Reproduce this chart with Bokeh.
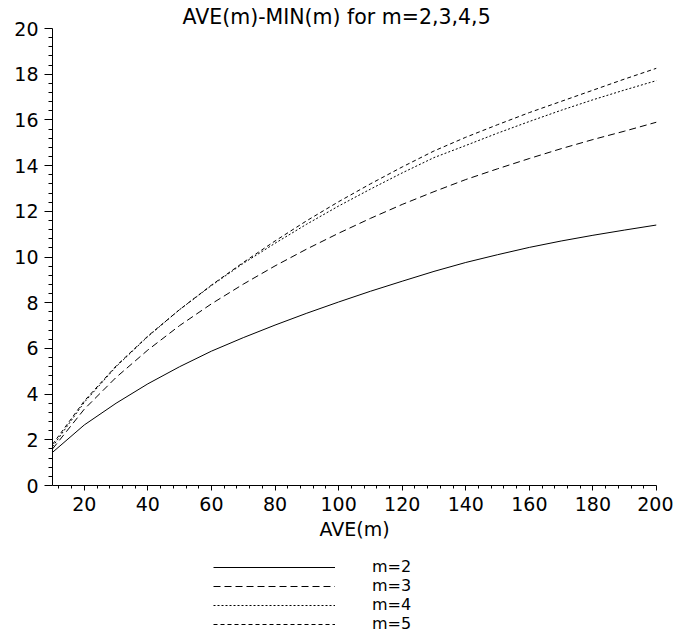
from bokeh.plotting import figure
from bokeh.layouts import column
from bokeh.models import Range1d, FixedTicker, Legend, LegendItem
from bokeh.embed import file_html
from bokeh.resources import INLINE

ave = [10, 20, 30, 40, 50, 60, 70, 80, 90, 100, 110, 120, 130, 140, 150, 160, 170, 180, 190, 200]
m2 = [1.45, 2.65, 3.6, 4.45, 5.2, 5.88, 6.47, 7.02, 7.54, 8.03, 8.5, 8.94, 9.37, 9.76, 10.1, 10.42, 10.7, 10.95, 11.18, 11.4]
m3 = [1.6, 3.34, 4.73, 5.93, 7.0, 7.95, 8.81, 9.61, 10.35, 11.04, 11.69, 12.3, 12.86, 13.39, 13.86, 14.31, 14.74, 15.14, 15.51, 15.9]
m4 = [1.7, 3.64, 5.2, 6.52, 7.7, 8.75, 9.72, 10.6, 11.44, 12.23, 12.97, 13.68, 14.35, 14.88, 15.42, 15.93, 16.42, 16.88, 17.31, 17.72]
m5 = [1.8, 3.7, 5.23, 6.54, 7.7, 8.77, 9.76, 10.7, 11.59, 12.42, 13.2, 13.94, 14.64, 15.24, 15.79, 16.32, 16.81, 17.3, 17.79, 18.26]
names = ["m=2", "m=3", "m=4", "m=5"]
dashes = ["solid", "7 4", "2 2", "4 3"]
x_ticks = [20, 40, 60, 80, 100, 120, 140, 160, 180, 200]
y_ticks = [0, 2, 4, 6, 8, 10, 12, 14, 16, 18, 20]

FONT = "DejaVu Sans"

p = figure(frame_width=604, frame_height=457,
           x_range=Range1d(10, 200), y_range=Range1d(0, 20),
           output_backend="svg", toolbar_location=None,
           min_border_left=52, min_border_right=17, min_border_top=28, min_border_bottom=70,
           title="AVE(m)-MIN(m) for m=2,3,4,5")
p.outline_line_color = None
p.grid.visible = False
p.title.align = "left"
p.title.offset = 130
p.title.text_font = FONT
p.title.text_font_size = "20.5px"
p.title.text_font_style = "normal"
p.title.text_color = "black"
p.title.standoff = 0

xminor = [v for v in range(12, 201, 4) if v % 20 != 0]
yminor = [round(i * 0.4, 1) for i in range(0, 51) if i % 5 != 0]
p.xaxis.ticker = FixedTicker(ticks=x_ticks, minor_ticks=xminor)
p.yaxis.ticker = FixedTicker(ticks=y_ticks, minor_ticks=yminor)
p.xaxis.axis_label = "AVE(m)"

for ax in (p.xaxis, p.yaxis):
    ax.major_label_text_font = FONT
    ax.major_label_text_font_size = "19px"
    ax.major_label_text_color = "black"
    ax.axis_label_text_font = FONT
    ax.axis_label_text_font_size = "19px"
    ax.axis_label_text_font_style = "normal"
    ax.axis_label_text_color = "black"
    ax.axis_line_color = "black"
    ax.major_tick_line_color = "black"
    ax.minor_tick_line_color = "black"
    ax.major_tick_in = 0
    ax.minor_tick_in = 0

p.xaxis.major_tick_out = 5
p.xaxis.minor_tick_out = 3
p.xaxis.major_label_standoff = 6
p.xaxis.axis_label_standoff = 4
p.yaxis.major_tick_out = 8
p.yaxis.minor_tick_out = 4
p.yaxis.major_label_standoff = 6

series = [m2, m3, m4, m5]
for ys, d in zip(series, dashes):
    p.line(ave, ys, line_color="black", line_width=1, line_dash=d)

# legend strip below the plot (its own lines fall outside its tiny range, so only the legend shows)
lg = figure(width=673, height=78, x_range=Range1d(0, 1), y_range=Range1d(0, 1),
            output_backend="svg", toolbar_location=None,
            x_axis_location=None, y_axis_location=None,
            min_border_left=0, min_border_right=0, min_border_top=0, min_border_bottom=0)
lg.outline_line_color = None
lg.grid.visible = False
items = []
for n, ys, d in zip(names, series, dashes):
    r = lg.line(ave, ys, line_color="black", line_width=1, line_dash=d)
    items.append(LegendItem(label=n, renderers=[r]))

legend = Legend(items=items, location=(161, 0), glyph_width=122, glyph_height=16, label_height=16,
                spacing=0, label_standoff=37, padding=0, margin=0,
                border_line_color=None, background_fill_alpha=0,
                label_text_font=FONT, label_text_font_size="16px", label_text_color="black")
lg.add_layout(legend)

open("out.html", "w").write(file_html(column(p, lg, spacing=0), INLINE))
